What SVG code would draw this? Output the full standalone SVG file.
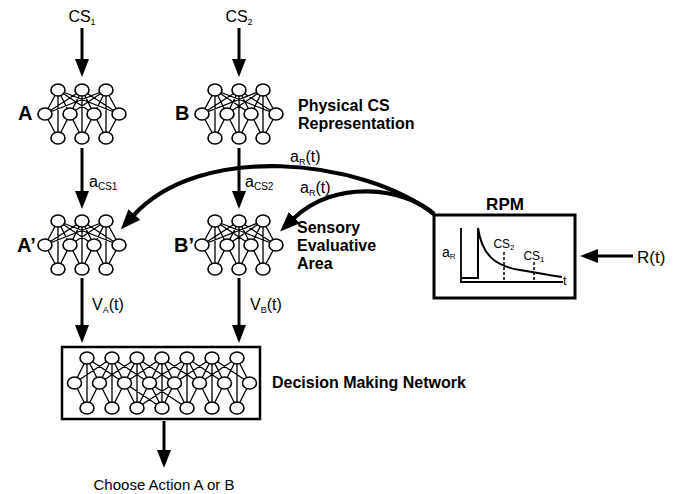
<svg xmlns="http://www.w3.org/2000/svg" xmlns:xlink="http://www.w3.org/1999/xlink" width="687" height="494" viewBox="0 0 687 494">
<style>
text{font-family:"Liberation Sans",Arial,sans-serif;fill:#000}
.b{font-weight:bold}
.ln{stroke:#000;stroke-width:1.3;fill:none}
.nd{fill:#fff;stroke:#000;stroke-width:1.6}
.nd ellipse{rx:7px;ry:6px}
.arr{stroke:#000;stroke-width:3;fill:none}
.crv{stroke:#000;stroke-width:4.2;fill:none}
</style>
<defs>
<marker id="ah" markerUnits="userSpaceOnUse" markerWidth="18" markerHeight="14" viewBox="0 0 18 14" refX="2" refY="7" orient="auto"><path d="M0,0L18,7L0,14z" fill="#000"/></marker>
<marker id="ahc" markerUnits="userSpaceOnUse" markerWidth="20" markerHeight="16" viewBox="0 0 20 16" refX="2" refY="8" orient="auto"><path d="M0,0L20,8L0,16z" fill="#000"/></marker>
<g id="net">
<path class="ln" d="M-24,0L-37,24M-24,0L-12,24M-24,0L12,24M-24,0L37,24M0,0L-37,24M0,0L-12,24M0,0L12,24M0,0L37,24M24,0L-37,24M24,0L-12,24M24,0L12,24M24,0L37,24M-24,0V48M0,0V48M24,0V48M-37,24L-24,48M-12,24L-24,48M-12,24L0,48M12,24L0,48M12,24L24,48M37,24L24,48"/>
<g class="nd">
<ellipse cx="-24" cy="0" rx="7" ry="6"/><ellipse cx="0" cy="0" rx="7" ry="6"/><ellipse cx="24" cy="0" rx="7" ry="6"/>
<ellipse cx="-37" cy="24" rx="7" ry="6"/><ellipse cx="-12" cy="24" rx="7" ry="6"/><ellipse cx="12" cy="24" rx="7" ry="6"/><ellipse cx="37" cy="24" rx="7" ry="6"/>
<ellipse cx="-24" cy="48" rx="7" ry="6"/><ellipse cx="0" cy="48" rx="7" ry="6"/><ellipse cx="24" cy="48" rx="7" ry="6"/>
</g>
</g>
</defs>

<g id="netA"><use xlink:href="#net" href="#net" transform="translate(82,90)"/><text class="b" x="18" y="120" font-size="20">A</text></g>
<g id="netB"><use xlink:href="#net" href="#net" transform="translate(239,90)"/><text class="b" x="175" y="120" font-size="20">B</text></g>
<g id="netA2"><use xlink:href="#net" href="#net" transform="translate(82,221)"/><text class="b" x="17" y="252" font-size="20">A’</text></g>
<g id="netB2"><use xlink:href="#net" href="#net" transform="translate(239,221)"/><text class="b" x="174" y="252" font-size="20">B’</text></g>

<g id="decision">
<rect x="62" y="347" width="198" height="72" fill="#fff" stroke="#000" stroke-width="2.5"/>
<path class="ln" d="M87,358L74.5,383M87,358L99.5,383M87,358L124.5,383
M112,358L74.5,383M112,358L99.5,383M112,358L124.5,383M112,358L149.5,383
M137,358L99.5,383M137,358L124.5,383M137,358L149.5,383M137,358L174.5,383
M162,358L124.5,383M162,358L149.5,383M162,358L174.5,383M162,358L199.5,383
M187,358L149.5,383M187,358L174.5,383M187,358L199.5,383M187,358L224.5,383
M212,358L174.5,383M212,358L199.5,383M212,358L224.5,383M212,358L249.5,383
M237,358L199.5,383M237,358L224.5,383M237,358L249.5,383
M87,358V408M112,358V408M137,358V408M162,358V408M187,358V408M212,358V408M237,358V408
M74.5,383L87,408M99.5,383L87,408M99.5,383L112,408M124.5,383L112,408M124.5,383L137,408M149.5,383L137,408M149.5,383L162,408M174.5,383L162,408M174.5,383L187,408M199.5,383L187,408M199.5,383L212,408M224.5,383L212,408M224.5,383L237,408M249.5,383L237,408
M149.5,383L187,408M174.5,383L137,408M124.5,383L162,408"/>
<g class="nd">
<ellipse cx="87" cy="358" rx="7" ry="6"/><ellipse cx="112" cy="358" rx="7" ry="6"/><ellipse cx="137" cy="358" rx="7" ry="6"/><ellipse cx="162" cy="358" rx="7" ry="6"/><ellipse cx="187" cy="358" rx="7" ry="6"/><ellipse cx="212" cy="358" rx="7" ry="6"/><ellipse cx="237" cy="358" rx="7" ry="6"/>
<ellipse cx="74.5" cy="383" rx="7" ry="6"/><ellipse cx="99.5" cy="383" rx="7" ry="6"/><ellipse cx="124.5" cy="383" rx="7" ry="6"/><ellipse cx="149.5" cy="383" rx="7" ry="6"/><ellipse cx="174.5" cy="383" rx="7" ry="6"/><ellipse cx="199.5" cy="383" rx="7" ry="6"/><ellipse cx="224.5" cy="383" rx="7" ry="6"/><ellipse cx="249.5" cy="383" rx="7" ry="6"/>
<ellipse cx="87" cy="408" rx="7" ry="6"/><ellipse cx="112" cy="408" rx="7" ry="6"/><ellipse cx="137" cy="408" rx="7" ry="6"/><ellipse cx="162" cy="408" rx="7" ry="6"/><ellipse cx="187" cy="408" rx="7" ry="6"/><ellipse cx="212" cy="408" rx="7" ry="6"/><ellipse cx="237" cy="408" rx="7" ry="6"/>
</g>
<text class="b" x="272" y="388" font-size="16">Decision Making Network</text>
</g>

<g id="rpm">
<rect x="434" y="215" width="141" height="83" fill="#fff" stroke="#000" stroke-width="3"/>
<text class="b" x="505" y="210" font-size="17" text-anchor="middle">RPM</text>
<path d="M461,228V282H563" fill="none" stroke="#000" stroke-width="1.8"/>
<path d="M461,278H478V228C482,255 495,266 520,270S552,276 562,277" fill="none" stroke="#000" stroke-width="2"/>
<path d="M504,252V282M534,262V282" stroke="#000" stroke-width="1.5" stroke-dasharray="3,2"/>
<text x="504" y="248" font-size="12" text-anchor="middle">CS<tspan font-size="8" dy="2">2</tspan></text>
<text x="534" y="260" font-size="12" text-anchor="middle">CS<tspan font-size="8" dy="2">1</tspan></text>
<text x="442" y="257" font-size="14">a<tspan font-size="8" dy="2">R</tspan></text>
<text x="563" y="285" font-size="13">t</text>
</g>

<g id="labels">
<text x="82" y="22" font-size="16" text-anchor="middle">CS<tspan font-size="9" dy="3">1</tspan></text>
<text x="239" y="22" font-size="16" text-anchor="middle">CS<tspan font-size="9" dy="3">2</tspan></text>
<text class="b" x="298" y="111" font-size="16">Physical CS</text>
<text class="b" x="298" y="129" font-size="16">Representation</text>
<text class="b" x="297" y="233" font-size="16">Sensory</text>
<text class="b" x="297" y="251" font-size="16">Evaluative</text>
<text class="b" x="297" y="269" font-size="16">Area</text>
<text x="89" y="187" font-size="16">a<tspan font-size="10" dy="3">CS1</tspan></text>
<text x="245" y="187" font-size="16">a<tspan font-size="10" dy="3">CS2</tspan></text>
<text x="290" y="162" font-size="16">a<tspan font-size="9" dy="3">R</tspan><tspan dy="-3">(t)</tspan></text>
<text x="300" y="193" font-size="16">a<tspan font-size="9" dy="3">R</tspan><tspan dy="-3">(t)</tspan></text>
<text x="92" y="310" font-size="16">V<tspan font-size="9" dy="3">A</tspan><tspan dy="-3">(t)</tspan></text>
<text x="250" y="310" font-size="16">V<tspan font-size="9" dy="3">B</tspan><tspan dy="-3">(t)</tspan></text>
<text x="637" y="263" font-size="17">R(t)</text>
<text x="164" y="490" font-size="15" text-anchor="middle">Choose Action A or B</text>
</g>

<g id="connectors">
<line class="arr" x1="82" y1="28" x2="82" y2="61" marker-end="url(#ah)"/>
<line class="arr" x1="239" y1="28" x2="239" y2="61" marker-end="url(#ah)"/>
<line class="arr" x1="82" y1="148" x2="82" y2="193" marker-end="url(#ah)"/>
<line class="arr" x1="239" y1="148" x2="239" y2="193" marker-end="url(#ah)"/>
<line class="arr" x1="82" y1="278" x2="82" y2="327" marker-end="url(#ah)"/>
<line class="arr" x1="239" y1="278" x2="239" y2="327" marker-end="url(#ah)"/>
<line class="arr" x1="164" y1="421" x2="164" y2="452" marker-end="url(#ah)"/>
<line class="arr" x1="633" y1="256" x2="596" y2="256" marker-end="url(#ah)"/>
<path class="crv" d="M434,214C360,158 200,142 133,216" marker-end="url(#ahc)"/>
<path class="crv" d="M434,214C405,188 335,178 293,219" marker-end="url(#ahc)"/>
</g>
</svg>
